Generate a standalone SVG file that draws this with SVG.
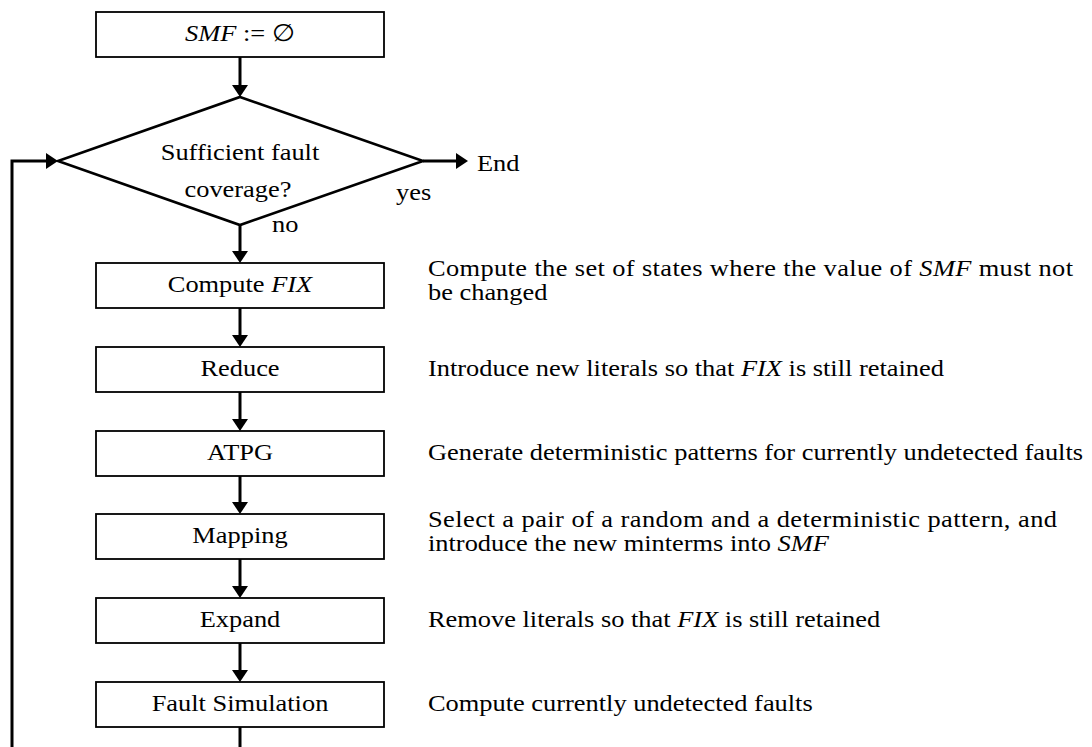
<svg xmlns="http://www.w3.org/2000/svg" width="1092" height="747" viewBox="0 0 1092 747">
<style>
.box{fill:#fff;stroke:#000;stroke-width:1.8}
.dia{fill:#fff;stroke:#000;stroke-width:2.6}
.con{fill:none;stroke:#000;stroke-width:3}
text{font-family:"Liberation Serif","Times New Roman",serif;font-size:24px;fill:#000}
.c{text-anchor:middle}
.i{font-style:italic}
</style>
<defs>
<marker id="ah" viewBox="0 0 12 16" refX="0" refY="8" markerWidth="12" markerHeight="16" markerUnits="userSpaceOnUse" orient="auto">
<path d="M0,0 L12,8 L0,16 z" fill="#000"/>
</marker>
</defs>
<rect x="0" y="0" width="1092" height="747" fill="#fff"/>
<g id="connectors">
<line class="con" x1="240" y1="57" x2="240" y2="85" marker-end="url(#ah)"/>
<line class="con" x1="240" y1="225" x2="240" y2="251" marker-end="url(#ah)"/>
<line class="con" x1="423" y1="161" x2="456" y2="161" marker-end="url(#ah)"/>
<polyline class="con" points="12,747 12,161 46,161" marker-end="url(#ah)"/>
<line class="con" x1="240" y1="308" x2="240" y2="335" marker-end="url(#ah)"/>
<line class="con" x1="240" y1="392" x2="240" y2="419" marker-end="url(#ah)"/>
<line class="con" x1="240" y1="476" x2="240" y2="502" marker-end="url(#ah)"/>
<line class="con" x1="240" y1="559" x2="240" y2="586" marker-end="url(#ah)"/>
<line class="con" x1="240" y1="643" x2="240" y2="670" marker-end="url(#ah)"/>
<line class="con" x1="240" y1="727" x2="240" y2="747"/>
</g>
<g id="start">
<rect class="box" x="96" y="12" width="288" height="45"/>
<text class="c" transform="scale(1.1 1)" x="218.18" y="41"><tspan class="i">SMF</tspan> := ∅</text>
</g>
<g id="decision">
<polygon class="dia" points="240,97 423,161 240,225 58,161"/>
<text class="c" transform="scale(1.1 1)" x="218.18" y="160">Sufficient fault</text>
<text class="c" transform="scale(1.1 1)" x="216.36" y="197">coverage?</text>
</g>
<g id="labels">
<text transform="scale(1.1 1)" x="433.64" y="171">End</text>
<text transform="scale(1.1 1)" x="360" y="200">yes</text>
<text transform="scale(1.1 1)" x="247.27" y="232">no</text>
</g>
<g id="computefix">
<rect class="box" x="96" y="263" width="288" height="45"/>
<text class="c" transform="scale(1.1 1)" x="218.18" y="292">Compute <tspan class="i">FIX</tspan></text>
<text transform="scale(1.1 1)" x="389.09" y="276" textLength="586.4" lengthAdjust="spacing">Compute the set of states where the value of <tspan class="i">SMF</tspan> must not</text>
<text transform="scale(1.1 1)" x="389.09" y="300">be changed</text>
</g>
<g id="reduce">
<rect class="box" x="96" y="347" width="288" height="45"/>
<text class="c" transform="scale(1.1 1)" x="218.18" y="376">Reduce</text>
<text transform="scale(1.1 1)" x="389.09" y="376">Introduce new literals so that <tspan class="i">FIX</tspan> is still retained</text>
</g>
<g id="atpg">
<rect class="box" x="96" y="431" width="288" height="45"/>
<text class="c" transform="scale(1.1 1)" x="218.18" y="460">ATPG</text>
<text transform="scale(1.1 1)" x="389.09" y="460">Generate deterministic patterns for currently undetected faults</text>
</g>
<g id="mapping">
<rect class="box" x="96" y="514" width="288" height="45"/>
<text class="c" transform="scale(1.1 1)" x="218.18" y="543">Mapping</text>
<text transform="scale(1.1 1)" x="389.09" y="527" textLength="571.8" lengthAdjust="spacing">Select a pair of a random and a deterministic pattern, and</text>
<text transform="scale(1.1 1)" x="389.09" y="551">introduce the new minterms into <tspan class="i">SMF</tspan></text>
</g>
<g id="expand">
<rect class="box" x="96" y="598" width="288" height="45"/>
<text class="c" transform="scale(1.1 1)" x="218.18" y="627">Expand</text>
<text transform="scale(1.1 1)" x="389.09" y="627">Remove literals so that <tspan class="i">FIX</tspan> is still retained</text>
</g>
<g id="faultsim">
<rect class="box" x="96" y="682" width="288" height="45"/>
<text class="c" transform="scale(1.1 1)" x="218.18" y="711">Fault Simulation</text>
<text transform="scale(1.1 1)" x="389.09" y="711">Compute currently undetected faults</text>
</g>
</svg>
